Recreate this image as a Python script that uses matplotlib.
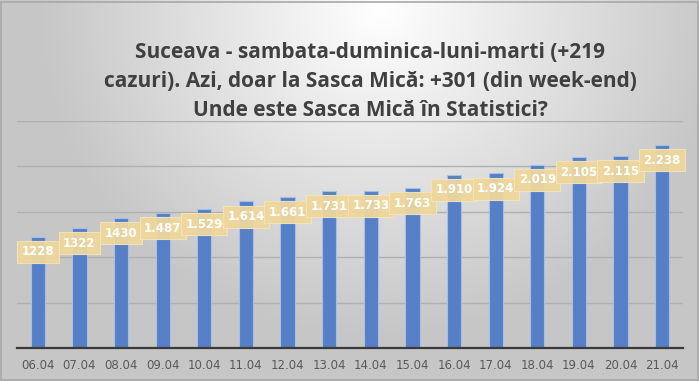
import numpy as np
import matplotlib
matplotlib.use("Agg")
import matplotlib.pyplot as plt

# data
dates = ["06.04", "07.04", "08.04", "09.04", "10.04", "11.04", "12.04", "13.04",
         "14.04", "15.04", "16.04", "17.04", "18.04", "19.04", "20.04", "21.04"]
cases = [1228, 1322, 1430, 1487, 1529, 1614, 1661, 1731,
         1733, 1763, 1910, 1924, 2019, 2105, 2115, 2238]
labels = ["1228", "1322", "1430", "1.487", "1.529", "1.614", "1.661", "1.731",
          "1.733", "1.763", "1.910", "1.924", "2.019", "2.105", "2.115", "2.238"]

title = ("Suceava - sambata-duminica-luni-marti (+219\n"
         "cazuri). Azi, doar la Sasca Mică: +301 (din week-end)\n"
         "Unde este Sasca Mică în Statistici?")

fig = plt.figure(figsize=(6.99, 3.81), dpi=100)

# background gradient (white top-centre, grey towards edges)
bg = fig.add_axes([0, 0, 1, 1])
yy, xx = np.mgrid[0:381, 0:699]
d = np.sqrt(((xx - 380) / 400.0) ** 2 + ((yy - 10) / 380.0) ** 2)
shade = np.clip(1.0 - 0.26 * d, 0.78, 1.0)
bg.imshow(np.dstack([shade] * 3), extent=[0, 1, 0, 1], aspect="auto",
          origin="upper")
bg.set_xlim(0, 1)
bg.set_ylim(0, 1)
bg.axis("off")
bg.add_patch(plt.Rectangle((0.002, 0.002), 0.996, 0.994, fill=False,
                           edgecolor="#a8a8a8", linewidth=1.2))

ax = fig.add_axes([0.0243, 0.0866, 0.9528, 0.5958])
ax.patch.set_alpha(0)
x = np.arange(len(dates))
ax.bar(x, cases, width=0.34, color="#5580C8", edgecolor="#a8bfe6",
       linewidth=0.8, zorder=3)

ax.set_ylim(0, 2500)
ax.set_xlim(-0.5, len(dates) - 0.5)
ax.set_yticks([500, 1000, 1500, 2000, 2500])
ax.yaxis.grid(True, color="#b0b0b0", linewidth=1.0, zorder=0)
ax.tick_params(axis="y", length=0, labelleft=False)
ax.tick_params(axis="x", length=0, pad=8, labelsize=8.5, labelcolor="#595959")
ax.set_xticks(x)
ax.set_xticklabels(dates)
for s in ["top", "right", "left"]:
    ax.spines[s].set_visible(False)
ax.spines["bottom"].set_color("#3a3a3a")
ax.spines["bottom"].set_linewidth(1.6)
ax.spines["bottom"].set_zorder(4)

for xi, v, lab in zip(x, cases, labels):
    ax.annotate(lab, (xi, v), xytext=(0, -11), textcoords="offset points",
                ha="center", va="center", color="white", fontsize=8.5,
                fontweight="bold", zorder=5,
                bbox=dict(boxstyle="square,pad=0.38", facecolor="#efd79c",
                          edgecolor="#f3e3b8", linewidth=0.8, alpha=0.95))

fig.text(0.53, 0.787, title, ha="center", va="center", fontsize=15,
         fontweight="bold", color="#404040", linespacing=1.5,
         family=["Open Sans", "DejaVu Sans"])

fig.savefig("out.png", dpi=100)
